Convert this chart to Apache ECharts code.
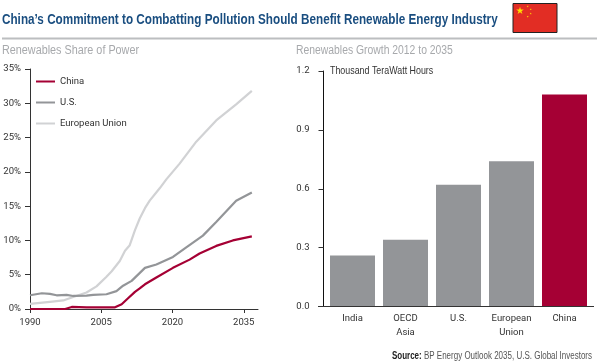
<!DOCTYPE html>
<html><head><meta charset="utf-8">
<style>html,body{margin:0;padding:0;background:#fff}#c{width:600px;height:363px}</style>
<script src="https://cdn.jsdelivr.net/npm/echarts@6/dist/echarts.min.js"></script>
</head><body><div id="c"></div>
<script>
const FONT = '"Liberation Sans",sans-serif';
const AXFONT = 'Roboto,sans-serif';
const chinaShare = [[1990,0],[1997.4,0],[1998.8,0.3],[2001.9,0.25],[2007.9,0.25],[2009.3,0.7],[2010.7,1.6],[2012.1,2.5],[2013.1,3],[2014.2,3.6],[2016.6,4.6],[2020.1,6],[2023.6,7.2],[2025.7,8.1],[2029.2,9.2],[2032.7,10],[2036.7,10.6]];
const usShare = [[1990,2],[1992.5,2.3],[1994.2,2.2],[1995.6,2],[1997.7,2.05],[1999.1,1.9],[2001.9,1.95],[2003.3,2.05],[2006.1,2.15],[2008.2,2.6],[2009.6,3.4],[2011.4,4.1],[2014.2,6],[2016.6,6.5],[2020.1,7.6],[2022.9,9],[2026.4,10.7],[2029.2,12.7],[2033.4,15.8],[2036.7,17]];
const euShare = [[1990,0.75],[1994.2,1.05],[1997,1.25],[1999.1,1.75],[2001.9,2.4],[2004,3.3],[2006.1,4.7],[2007.2,5.5],[2008.9,7],[2010,8.5],[2011,9.3],[2012.1,11.5],[2013.1,13.2],[2014.2,14.7],[2015.2,15.8],[2017.3,17.6],[2018.7,18.9],[2021.5,21.2],[2025,24.4],[2029.2,27.5],[2033.4,29.85],[2036.7,31.8]];
const growthCategories = ['India','OECD\nAsia','U.S.','European\nUnion','China'];
const growthValues = [0.26,0.34,0.62,0.74,1.08];
const yearTicks = [1990,2005,2020,2035];

const RED='#a50034', GREY='#939598', LIGHT='#d1d2d4', TXT='#333', AX='#333';
function star(cx,cy,r,rot){const p=[];for(let i=0;i<10;i++){const a=rot+i*Math.PI/5-Math.PI/2,q=i%2?r*0.382:r;p.push([cx+q*Math.cos(a),cy+q*Math.sin(a)]);}return {type:'polygon',shape:{points:p},style:{fill:'#ffe000'},z:3};}
function label(text,x,y,sx,size,fill,weight,align,rich){return {type:'text',x:x,y:y,scaleX:sx,originX:0,originY:0,z:6,style:Object.assign({text:text,fontFamily:FONT,fontSize:size,fontWeight:weight||'normal',fill:fill,align:align||'left',verticalAlign:'middle'},rich?{rich:rich}:{})};}
const chart = echarts.init(document.getElementById('c'),null,{renderer:'canvas'});
chart.setOption({
  animation:false,
  backgroundColor:'#fff',
  textStyle:{fontFamily:AXFONT},
  grid:[
    {left:30,top:69,width:228,height:240},
    {left:326,top:71,width:265,height:235.5}
  ],
  xAxis:[
    {type:'value',gridIndex:0,min:1990,max:2038,interval:15,
      axisLine:{lineStyle:{color:AX,width:1}},
      axisTick:{customValues:yearTicks,length:4,inside:false,lineStyle:{color:AX}},
      axisLabel:{customValues:yearTicks,formatter:v=>String(v),color:TXT,fontSize:9.5,margin:9,fontFamily:AXFONT},
      splitLine:{show:false}},
    {type:'category',gridIndex:1,data:growthCategories,
      axisLine:{show:false},axisTick:{show:false},
      axisLabel:{color:TXT,fontSize:9.5,margin:5,lineHeight:14,fontFamily:AXFONT,interval:0},
      splitLine:{show:false}}
  ],
  yAxis:[
    {type:'value',gridIndex:0,min:0,max:35,interval:5,
      axisLine:{show:true,lineStyle:{color:AX,width:1}},
      axisTick:{show:true,length:5,lineStyle:{color:AX}},
      axisLabel:{formatter:'{value}%',color:TXT,fontSize:9.5,margin:9,fontFamily:AXFONT},
      splitLine:{show:false}},
    {type:'value',gridIndex:1,min:0,max:1.2,interval:0.3,offset:2.5,
      axisLine:{show:true,lineStyle:{color:'#111',width:1}},
      axisTick:{show:true,length:5,lineStyle:{color:AX}},
      axisLabel:{formatter:v=>v.toFixed(1),color:TXT,fontSize:9.5,margin:14,fontFamily:AXFONT},
      splitLine:{show:false}}
  ],
  legend:{show:true,orient:'vertical',left:36,top:76.5,itemWidth:19,itemHeight:2,itemGap:11,
    data:[{name:'China',icon:'rect'},{name:'U.S.',icon:'rect'},{name:'European Union',icon:'rect'}],
    itemStyle:{borderWidth:0},padding:0,
    textStyle:{color:TXT,fontSize:9.5,fontFamily:AXFONT}},
  series:[
    {name:'European Union',type:'line',xAxisIndex:0,yAxisIndex:0,data:euShare,showSymbol:false,smooth:false,lineStyle:{color:LIGHT,width:2.2},itemStyle:{color:LIGHT},z:2},
    {name:'U.S.',type:'line',xAxisIndex:0,yAxisIndex:0,data:usShare,showSymbol:false,smooth:false,lineStyle:{color:GREY,width:2.2},itemStyle:{color:GREY},z:3},
    {name:'China',type:'line',xAxisIndex:0,yAxisIndex:0,data:chinaShare,showSymbol:false,smooth:false,lineStyle:{color:RED,width:2.2},itemStyle:{color:RED},z:4},
    {name:'Growth',type:'bar',xAxisIndex:1,yAxisIndex:1,barWidth:45,
      data:growthValues.map((v,i)=>({value:v,itemStyle:{color:i===growthValues.length-1?RED:GREY}}))}
  ],
  graphic:[
    label('China’s Commitment to Combatting Pollution Should Benefit Renewable Energy Industry',2,19.5,0.756,15.5,'#1a4e80','bold'),
    label('Renewables Share of Power',2,51,0.865,12.5,'#a7a9ac'),
    label('Renewables Growth 2012 to 2035',296,51,0.83,12.5,'#a7a9ac'),
    label('Thousand TeraWatt Hours',330,71,0.845,10.5,TXT),
    label('{b|Source:} BP Energy Outlook 2035, U.S. Global Investors',592,356,0.8,10,'#555','normal','right',{b:{fontFamily:FONT,fontSize:10,fontWeight:'bold',fill:'#222',verticalAlign:'middle'}}),
    {type:'line',shape:{x1:2,y1:38.5,x2:597,y2:38.5},style:{stroke:'#bcbec0',lineWidth:2}},
    {type:'line',shape:{x1:318,y1:306.5,x2:594,y2:306.5},style:{stroke:AX,lineWidth:1},z:5},
    {type:'rect',shape:{x:513,y:3.5,width:44,height:29},style:{fill:'#e22d24',stroke:'#222',lineWidth:1}},
    star(520,10.7,4,0),star(527.7,6.3,1.1,0.6),star(530.7,9.3,1.1,1),star(530.7,13.7,1.1,0),star(527.7,16.7,1.1,0.6)
  ]
});
</script></body></html>
